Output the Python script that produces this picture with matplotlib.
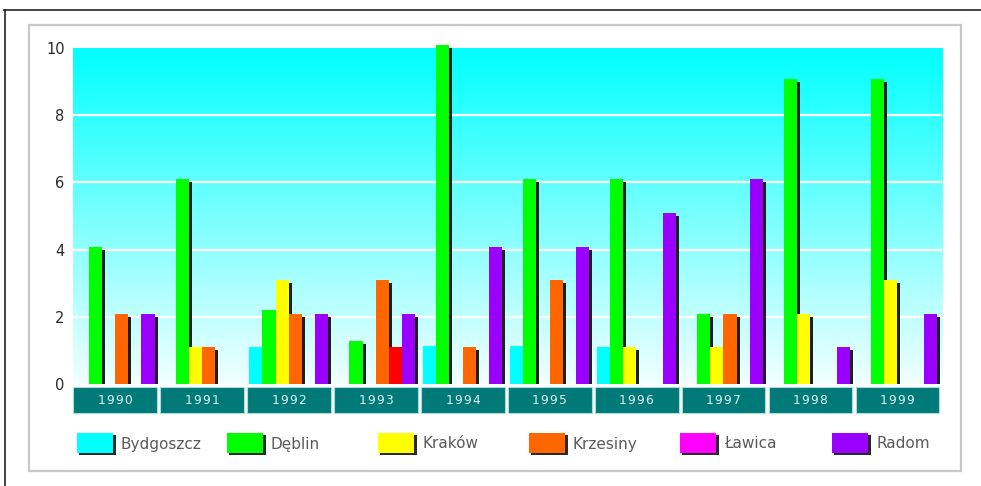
import numpy as np
import matplotlib.pyplot as plt
from matplotlib.patches import Rectangle
from matplotlib.lines import Line2D

# ---- data -------------------------------------------------------------
years = ['1990', '1991', '1992', '1993', '1994', '1995', '1996', '1997', '1998', '1999']
series_names = ['Bydgoszcz', 'Dęblin', 'Kraków', 'Krzesiny', 'Ławica', 'Radom']

bydgoszcz = [0, 0, 1, 0, 1.05, 1.05, 1, 0, 0, 0]
deblin = [4, 6, 2.1, 1.2, 10, 6, 6, 2, 9, 9]
krakow = [0, 1, 3, 0, 0, 0, 1, 1, 2, 3]
krzesiny = [2, 1, 2, 3, 1, 3, 0, 2, 0, 0]
lawica = [0, 0, 0, 1, 0, 0, 0, 0, 0, 0]
radom = [2, 0, 2, 2, 4, 4, 5, 6, 1, 2]
series_values = [bydgoszcz, deblin, krakow, krzesiny, lawica, radom]

legend_colors = ['#00FFFF', '#00FF00', '#FFFF00', '#FF6600', '#FF00FF', '#9900FF']
bar_colors = ['#00FFFF', '#00FF00', '#FFFF00', '#FF6600', '#FF0000', '#9900FF']

y_ticks = [0, 2, 4, 6, 8, 10]

# ---- figure -----------------------------------------------------------
W, H = 981, 486
fig = plt.figure(figsize=(W / 100, H / 100), dpi=100)
fig.patch.set_facecolor('white')


def fx(px):
    return px / W


def fy(py):
    return 1 - py / H


# outer frame (top and left) and inner grey panel
fig.add_artist(Line2D([fx(4), fx(981)], [fy(10.5), fy(10.5)], color='#222222', lw=1.2))
fig.add_artist(Line2D([fx(4.5), fx(4.5)], [fy(10.5), fy(486)], color='#222222', lw=1.2))
fig.add_artist(Rectangle((fx(29), fy(471)), fx(961 - 29), (471 - 25) / H,
                         fill=False, edgecolor='#C8C8C8', lw=1.6))

left_px, right_px, top_px, base_px = 73, 942, 48, 384
ax = fig.add_axes([fx(left_px), fy(base_px), fx(right_px - left_px), (base_px - top_px) / H])
ax.set_xlim(0, len(years))
ax.set_ylim(0, 10)
for s in ax.spines.values():
    s.set_visible(False)

dx = len(years) / (right_px - left_px)   # data units per pixel, x
dy = 10 / (base_px - top_px)             # data units per pixel, y

# gradient background
grad = np.linspace(0, 1, 256)[:, None]
top_c = np.array([0, 255, 255]) / 255
bot_c = np.array([242, 255, 255]) / 255
img = top_c[None, None, :] * grad[..., None] + bot_c[None, None, :] * (1 - grad[..., None])
img = np.repeat(img, 2, axis=1)
ax.imshow(img, extent=[0, len(years), 0, 10], origin='lower', aspect='auto', zorder=0)

for t in y_ticks[1:-1]:
    ax.axhline(t, color='white', lw=1.6, zorder=1)

# bars with a dark offset shadow
box_w = 83.7 * dx
step = 13.2 * dx
front_w = 13.2 * dx
depth_x, depth_y = 3 * dx, 3 * dy
for k, (vals, col) in enumerate(zip(series_values, bar_colors)):
    for i, v in enumerate(vals):
        if v <= 0:
            continue
        box_left = i + 0.005
        x0 = box_left + 2 * dx + k * step
        ax.add_patch(Rectangle((x0 + depth_x, 0), front_w, v, facecolor='#1E1E1E',
                               edgecolor='none', zorder=3 + 2 * k, clip_on=False))
        ax.add_patch(Rectangle((x0, 0), front_w, v + depth_y, facecolor=col,
                               edgecolor='none', zorder=4 + 2 * k, clip_on=False))

# category label boxes
for i, yr in enumerate(years):
    box_left = i + 0.005
    ax.add_patch(Rectangle((box_left, -28.7 * dy), box_w, 25.7 * dy, facecolor='#007A78',
                           edgecolor='#A8DCDC', lw=0.8, clip_on=False, zorder=2))
    ax.text(box_left + box_w / 2, -16.3 * dy, '\u200a'.join(yr), ha='center', va='center',
            color='#E4F2F2', fontsize=8.8, fontfamily='DejaVu Sans', clip_on=False)

ax.set_xticks([])
ax.set_yticks(y_ticks)
ax.set_yticklabels([str(t) for t in y_ticks], fontsize=10.5, color='#2A2A2A',
                   fontfamily='DejaVu Sans')
ax.tick_params(axis='y', length=0, pad=6)

# legend
legend_x = [77, 227, 378, 529, 680, 832]
for name, col, lx in zip(series_names, legend_colors, legend_x):
    fig.add_artist(Rectangle((fx(lx + 2), fy(455)), fx(37), 20 / H,
                             facecolor='#2A2A2A', edgecolor='none'))
    fig.add_artist(Rectangle((fx(lx), fy(453)), fx(36), 20 / H,
                             facecolor=col, edgecolor='none'))
    fig.text(fx(lx + 44), fy(444), name, ha='left', va='center',
             fontsize=11, color='#5A5A5A', fontfamily='DejaVu Sans')

fig.savefig('out.png', dpi=100)
